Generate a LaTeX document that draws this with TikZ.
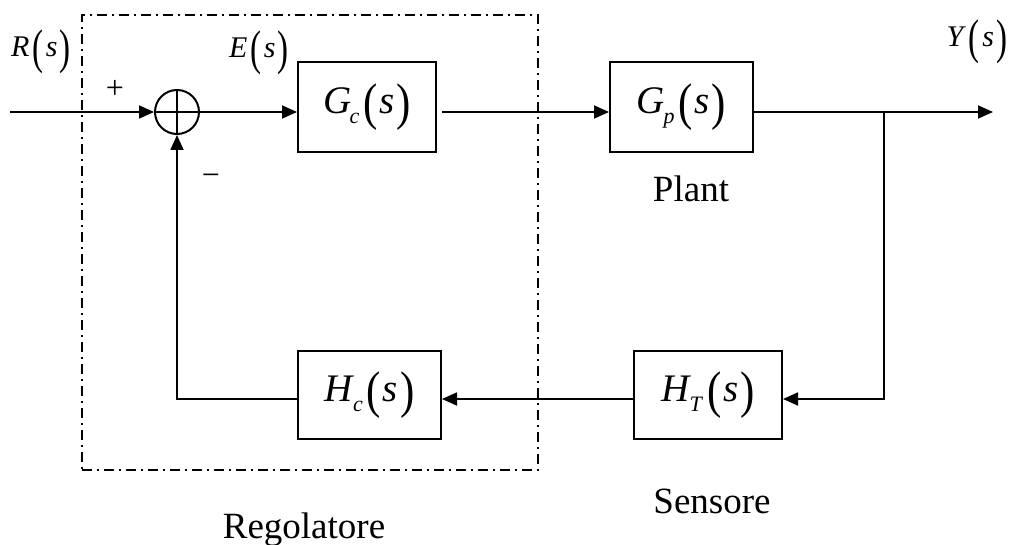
\documentclass[tikz,border=0pt]{standalone}
\usepackage{fontspec}
\setmainfont{Liberation Serif}
\usetikzlibrary{arrows.meta}
\newcommand\bp[3]{\raisebox{#2}{\scalebox{1.1}[#1]{#3}}}
\newcommand\sigl[1]{{\fontsize{30}{30}\selectfont\textit{#1}\kern0.1em\bp{1.62}{-0.21em}{(}\kern0.08em\textit{s}\kern0.08em\bp{1.62}{-0.21em}{)}}}
\newcommand\tfl[2]{{\fontsize{39}{39}\selectfont\textit{#1}\kern-0.04em\raisebox{-0.25em}{\fontsize{22}{22}\selectfont\textit{#2}}\kern0.1em\bp{1.32}{-0.15em}{(}\kern0.05em\textit{s}\kern0.05em\bp{1.32}{-0.15em}{)}}}
\begin{document}
\begin{tikzpicture}[x=1pt,y=-1pt,
 blk/.style={draw,line width=2pt,minimum height=90pt,inner sep=0pt},
 ln/.style={line width=1.8pt},
 arr/.style={ln,-{Triangle[length=15pt,width=13pt]}},
 lbl/.style={font=\fontsize{37}{37}\selectfont,anchor=base,inner sep=0pt},
 sgn/.style={font=\fontsize{32}{32}\selectfont,inner sep=0pt},
 region/.style={draw,line width=1.5pt,dash pattern=on 10pt off 5pt on 2pt off 5pt,inner sep=0pt},
 ]
\useasboundingbox (0,0) rectangle (1011,545);
\node[region,minimum width=456pt,minimum height=455pt] (reg) at (310,242.5) {};
\node[circle,draw,line width=2pt,minimum size=44pt,inner sep=0pt] (sum) at (177,112) {};
\draw[ln] (sum.north) -- (sum.south) (sum.west) -- (sum.east);
\node[blk,minimum width=138pt] (gc) at (367,107) {\tfl{G}{c}};
\node[blk,minimum width=143pt] (gp) at (681.5,107) {\tfl{G}{p}};
\node[blk,minimum width=143pt,minimum height=88pt] (hc) at (369.5,395) {\tfl{H}{c}};
\node[blk,minimum width=148pt,minimum height=88pt] (ht) at (708,395) {\tfl{H}{T}};
\coordinate (in) at (10,112);
\coordinate (out) at (993,112);
\coordinate (br) at (884,112);
\coordinate (fbr) at (884,399);
\coordinate (fbl) at (177,399);
\draw[arr] (in) -- (sum.west);
\draw[arr] (sum.east) -- (gc.west |- sum.east);
\draw[arr,shorten <=5pt] (gc.east |- sum.east) -- (gp.west |- sum.east);
\draw[arr] (gp.east |- sum.east) -- (out);
\draw[arr] (br) -- (fbr) -- (ht.east |- fbr);
\draw[arr] (ht.west |- fbr) -- (hc.east |- fbr);
\draw[arr] (hc.west |- fbr) -- (fbl) -- (sum.south);
\node[anchor=base,inner sep=0pt] (lr) at (41,57) {\sigl{R}};
\node[anchor=base,inner sep=0pt] (le) at (259,58) {\sigl{E}};
\node[anchor=base,inner sep=0pt] (ly) at (977,47) {\sigl{Y}};
\node[sgn] (plus) at (115,89) {+};
\node[sgn] (minus) at (211,180) {−};
\node[lbl] (plant) at (691,202) {Plant};
\node[lbl] (sens) at (712,513) {Sensore};
\node[lbl] (rego) at (304,538) {Regolatore};
\end{tikzpicture}
\end{document}
